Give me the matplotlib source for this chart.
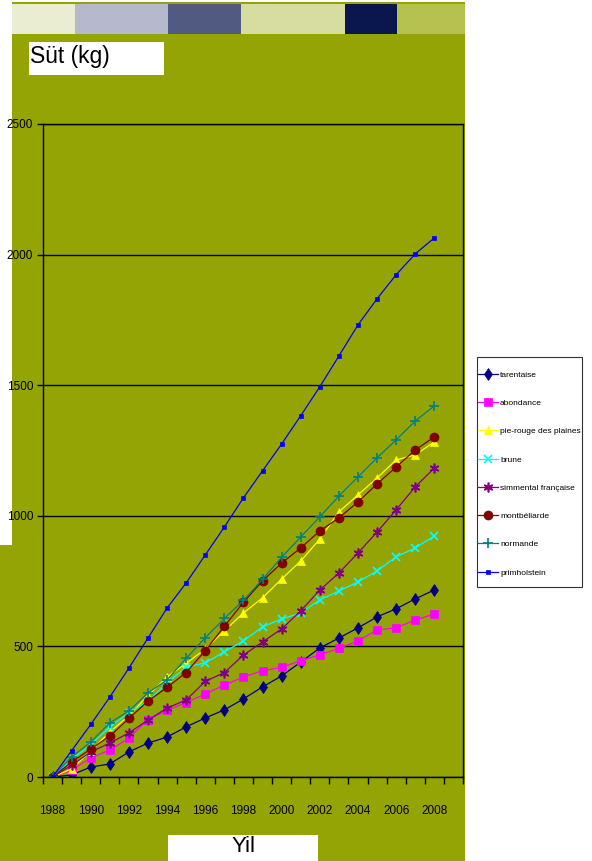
import matplotlib.pyplot as plt
from matplotlib.patches import Rectangle
import numpy as np

# veriler
years = list(range(1988, 2009))
tarentaise = [0, 8, 38, 50, 96, 130, 153, 192, 226, 257, 299, 345, 387, 440, 494, 532, 571, 613, 644, 682, 716]
abondance = [0, 27, 73, 103, 149, 220, 255, 285, 318, 352, 383, 407, 420, 445, 468, 492, 521, 563, 571, 601, 624]
pie_rouge = [0, 31, 100, 172, 235, 312, 383, 435, 490, 560, 628, 686, 758, 827, 911, 1015, 1080, 1145, 1214, 1233, 1283]
brune = [0, 68, 123, 192, 245, 290, 360, 421, 437, 479, 521, 575, 605, 628, 678, 712, 747, 789, 843, 877, 923]
simmental = [0, 45, 96, 130, 169, 218, 264, 295, 366, 400, 467, 517, 567, 636, 716, 781, 858, 938, 1023, 1111, 1183]
montbeliarde = [0, 57, 107, 157, 224, 291, 343, 400, 484, 577, 669, 751, 819, 877, 942, 992, 1053, 1122, 1187, 1252, 1302]
normande = [0, 77, 134, 207, 253, 322, 372, 454, 533, 607, 676, 757, 841, 919, 996, 1076, 1149, 1222, 1291, 1363, 1421]
primholstein = [0, 101, 201, 306, 417, 532, 647, 743, 850, 957, 1069, 1172, 1275, 1383, 1494, 1612, 1731, 1831, 1923, 2003, 2064]

labels = ['tarentaise', 'abondance', 'pie-rouge des plaines', 'brune',
          'simmental française', 'montbéliarde', 'normande', 'primholstein']
series = [tarentaise, abondance, pie_rouge, brune, simmental, montbeliarde, normande, primholstein]
colors = ['#000080', '#FF00FF', '#FFFF00', '#00FFFF', '#800080', '#800000', '#008080', '#0000FF']
markers = ['d', 's', '^', 'x', (6, 2, 0), 'o', '+', 's']
msizes = [6.5, 6, 6, 6, 7, 6.5, 7, 3.5]

olive = '#95A405'
band_cols = ['#EBEDD3', '#B5B9CB', '#515B82', '#D7DCA0', '#0A174E', '#B5C250']
band_x = [12, 75, 168, 241, 345, 397, 465]

W, H = 592, 861
narrow = ['Liberation Sans', 'DejaVu Sans']


def px(x, y):
    return x / W, 1 - y / H


fig = plt.figure(figsize=(W / 100, H / 100), dpi=100, facecolor='white')

# arka plan
def rect(x0, y0, x1, y1, c, ec='none', z=-5):
    r = Rectangle(px(x0, y1), (x1 - x0) / W, (y1 - y0) / H, transform=fig.transFigure,
                  facecolor=c, edgecolor=ec, linewidth=0.8, zorder=z)
    fig.add_artist(r)

rect(12, 2, 465, 861, olive)
rect(0, 545, 12, 861, olive)
for i in range(6):
    rect(band_x[i], 4, band_x[i + 1], 34, band_cols[i])
rect(29, 42, 164, 75, 'white')
rect(168, 835, 318, 861, 'white')
rect(477, 357, 582, 587, 'white', ec='#333333')
fig.text(*px(30, 56), 'Süt (kg)', fontsize=16.5, family='Liberation Sans', va='center', ha='left')
fig.text(*px(244, 846), 'Yil', fontsize=16, family='Liberation Sans', va='center', ha='center')

ax = fig.add_axes([43 / W, 1 - 777 / H, 420 / W, (777 - 124) / H])
ax.set_facecolor(olive)

for s, lab, c, m, ms in zip(series, labels, colors, markers, msizes):
    ax.plot(years, s, color=c, marker=m, markersize=ms, linewidth=0.9,
            markeredgewidth=1.2 if m in ('x', '+', (6, 2, 0)) else 0.5,
            markeredgecolor=c, label=lab)

ax.set_xlim(1987.5, 2009.5)
ax.set_ylim(0, 2500)
ax.set_yticks(np.arange(0, 2501, 500))
ax.yaxis.grid(True, color='black', linewidth=1)
ax.set_axisbelow(True)
ax.set_xticks(np.arange(1988, 2009, 2))
ax.set_xticks(np.arange(1987.5, 2010, 1), minor=True)
ax.tick_params(axis='x', which='major', length=0, pad=20, labelsize=8.5)
ax.tick_params(axis='x', which='minor', length=5, width=1, direction='out')
ax.tick_params(axis='y', length=4, width=1, pad=3, labelsize=8.5)
for lbl in ax.get_xticklabels() + ax.get_yticklabels():
    lbl.set_family(narrow)
for sp in ax.spines.values():
    sp.set_color('black')
    sp.set_linewidth(1)

# lejant: çerçeve ayrı çizildi
leg = ax.legend(loc='upper left', bbox_to_anchor=px(478, 371), bbox_transform=fig.transFigure,
                borderaxespad=0, borderpad=0, frameon=False,
                prop={'family': narrow, 'size': 6}, handlelength=2.4, handletextpad=0.25,
                labelspacing=2.45)

plt.savefig('out.png', dpi=100)
